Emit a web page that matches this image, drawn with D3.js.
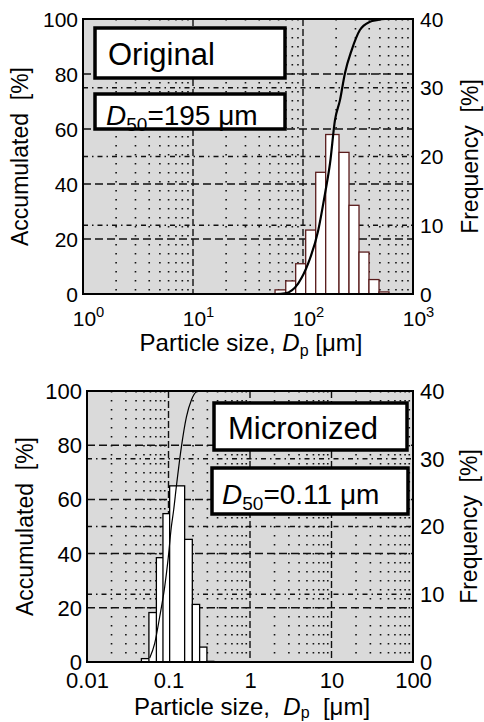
<!DOCTYPE html>
<html>
<head>
<meta charset="utf-8">
<script src="https://cdn.jsdelivr.net/npm/d3@7"></script>
<style>
  html, body { margin:0; padding:0; background:#fff; }
  svg { display:block; }
</style>
</head>
<body>
<svg id="chart" width="484" height="722"></svg>
<script>
// particle size distributions, original vs micronized

// top panel (original)
const origBinLo   = [55.7, 69.7, 85.8, 105.8, 130.5, 160.8, 212.5, 262, 323, 398, 491];
const origBinHi   = [69.7, 85.8, 105.8, 130.5, 160.8, 212.5, 262, 323, 398, 491, 605];
const origFreq    = [0.6, 1.9, 4.4, 9.3, 17.7, 23.2, 20.6, 12.9, 6.1, 2.1, 0.3];
const origCumSize = [55.7, 68.6, 90.6, 111.7, 137.8, 158.7, 176, 195.4, 216.8, 240.6, 277, 329, 406, 468, 560, 1000];
const origCumPct  = [0, 0.25, 3.9, 11.2, 23.3, 36.6, 47.5, 63.3, 70.5, 80.3, 88.7, 96, 99, 99.6, 100, 100];

// bottom panel (micronized)
const micBinLo   = [0.0465, 0.0575, 0.0710, 0.0855, 0.1033, 0.1578, 0.196, 0.241, 0.296];
const micBinHi   = [0.0676, 0.0841, 0.1033, 0.1306, 0.1578, 0.196, 0.241, 0.296, 0.36];
const micFreq    = [0.5, 7.3, 15.4, 21.9, 26.0, 18.1, 8.5, 2.2, 0.1];
const micCumSize = [0.0588, 0.0676, 0.0779, 0.0898, 0.0985, 0.1083, 0.1156, 0.1247, 0.1438, 0.1657, 0.1906, 0.2196, 0.2486];
const micCumPct  = [1.5, 6.8, 16.6, 27.7, 37.5, 49.8, 56, 64.6, 79.3, 90.4, 96.6, 99.6, 100];

// ticks
const accTicks  = [0, 20, 40, 60, 80, 100];
const freqTicks = [0, 10, 20, 30, 40];
const origXTicks = [1, 10, 100, 1000];
const origXExp   = ["0", "1", "2", "3"];
const micXTicks  = [0.01, 0.1, 1, 10, 100];
const micXLabels = ["0.01", "0.1", "1", "10", "100"];

const FONT = "'Liberation Sans', Arial, Helvetica, sans-serif";
const svg = d3.select("#chart");

function drawPanel(p) {
  const x = d3.scaleLog().domain(p.xDomain).range([p.left, p.right]);
  const yA = d3.scaleLinear().domain([0, 100]).range([p.bottom, p.top]);
  const yF = d3.scaleLinear().domain([0, 40]).range([p.bottom, p.top]);
  const g = svg.append("g");

  g.append("rect").attr("x", p.left).attr("y", p.top)
    .attr("width", p.right - p.left).attr("height", p.bottom - p.top)
    .attr("fill", "#dadada");

  // minor vertical dotted grid
  const minors = [];
  let d0 = p.xDomain[0];
  while (d0 < p.xDomain[1] * 0.999) {
    for (let k = 2; k <= 9; k++) minors.push(d0 * k);
    d0 *= 10;
  }
  g.append("g").selectAll("line").data(minors).join("line")
    .attr("x1", d => x(d)).attr("x2", d => x(d)).attr("y1", p.top).attr("y2", p.bottom)
    .attr("stroke", "#111").attr("stroke-width", 1.6).attr("stroke-dasharray", "1.6,7.4");

  // decade dashed verticals
  g.append("g").selectAll("line").data(p.xTicks.slice(1, -1)).join("line")
    .attr("x1", d => x(d)).attr("x2", d => x(d)).attr("y1", p.top).attr("y2", p.bottom)
    .attr("stroke", "#111").attr("stroke-width", 1.4).attr("stroke-dasharray", "7,3");

  // right axis dash-dot horizontals
  g.append("g").selectAll("line").data(freqTicks.slice(1, -1)).join("line")
    .attr("x1", p.left).attr("x2", p.right).attr("y1", d => yF(d)).attr("y2", d => yF(d))
    .attr("stroke", "#111").attr("stroke-width", 1.3).attr("stroke-dasharray", "5,4,1.5,4");

  // left axis dashed horizontals
  g.append("g").selectAll("line").data(accTicks.slice(1, -1)).join("line")
    .attr("x1", p.left).attr("x2", p.right).attr("y1", d => yA(d)).attr("y2", d => yA(d))
    .attr("stroke", "#111").attr("stroke-width", 1.5).attr("stroke-dasharray", "8,4");

  // histogram
  const bins = p.freq.map((f, i) => ({ lo: p.lo[i], hi: p.hi[i], f }));
  g.append("g").selectAll("rect").data(bins).join("rect")
    .attr("x", d => x(d.lo)).attr("width", d => x(d.hi) - x(d.lo))
    .attr("y", d => yF(d.f)).attr("height", d => yF(0) - yF(d.f))
    .attr("fill", "#fff").attr("stroke", p.barStroke).attr("stroke-width", 1.3);

  // cumulative curve
  const line = d3.line().x(d => x(d[0])).y(d => yA(d[1])).curve(d3.curveMonotoneX);
  g.append("path").datum(p.cumSize.map((s, i) => [s, p.cumPct[i]]))
    .attr("d", line).attr("fill", "none").attr("stroke", "#000").attr("stroke-width", p.curveW);

  // frame
  g.append("rect").attr("x", p.left).attr("y", p.top)
    .attr("width", p.right - p.left).attr("height", p.bottom - p.top)
    .attr("fill", "none").attr("stroke", "#000").attr("stroke-width", 2);

  // axes
  const styleTicks = (sel, fs) => sel.call(a => a.select(".domain").remove())
    .call(a => a.selectAll("line").remove())
    .call(a => a.selectAll("text").attr("fill", "#000")
      .style("font-family", FONT).style("font-size", fs + "px"));

  g.append("g").attr("transform", `translate(${p.left - 5},0)`)
    .call(d3.axisLeft(yA).tickValues(accTicks).tickSize(0).tickPadding(0).tickFormat(d3.format("d")))
    .call(sel => styleTicks(sel, p.yTickFs))
    .call(a => a.selectAll("text").attr("dy", "0.34em"));

  g.append("g").attr("transform", `translate(${p.right + 7},0)`)
    .call(d3.axisRight(yF).tickValues(freqTicks).tickSize(0).tickPadding(0).tickFormat(d3.format("d")))
    .call(sel => styleTicks(sel, p.yTickFs))
    .call(a => a.selectAll("text").attr("dy", "0.34em"));

  const xa = g.append("g").attr("transform", `translate(0,${p.bottom})`)
    .call(d3.axisBottom(x).tickValues(p.xTicks).tickSize(0).tickPadding(0).tickFormat(() => ""))
    .call(sel => styleTicks(sel, p.xTickFs));
  xa.selectAll("text").each(function (d, i) {
    const t = d3.select(this).attr("y", p.xLabelDy).attr("dy", null);
    if (p.xExp) {
      t.attr("dx", 5);
      t.append("tspan").text("10");
      t.append("tspan").attr("dy", -9).style("font-size", (p.xTickFs * 0.7) + "px").text(p.xExp[i]);
    } else {
      t.text(p.xLabels[i]);
    }
  });

  // axis titles
  const title = g.append("text").attr("x", (p.left + p.right) / 2 + p.titleDx).attr("y", p.titleY)
    .attr("text-anchor", "middle").attr("fill", "#000")
    .style("font-family", FONT).style("font-size", "24px").style("white-space", "pre");
  title.append("tspan").text(p.titleGap ? "Particle size,  " : "Particle size, ");
  title.append("tspan").style("font-style", "italic").text("D");
  title.append("tspan").attr("dy", p.subDy).style("font-size", "16px").text("p");
  title.append("tspan").attr("dy", -p.subDy).text(p.titleGap ? "  [\u03bcm]" : " [\u03bcm]");

  const cy = (p.top + p.bottom) / 2;
  g.append("text").attr("transform", `translate(${p.accX},${cy}) rotate(-90)`)
    .attr("text-anchor", "middle").attr("fill", "#000")
    .style("font-family", FONT).style("font-size", "23px").style("white-space", "pre")
    .text("Accumulated  [%]");
  g.append("text").attr("transform", `translate(${p.freqX},${cy}) rotate(-90)`)
    .attr("text-anchor", "middle").attr("fill", "#000")
    .style("font-family", FONT).style("font-size", "23px").style("white-space", "pre")
    .text("Frequency  [%]");

  // label boxes
  p.boxes.forEach(b => {
    g.append("rect").attr("x", b.x).attr("y", b.y).attr("width", b.w).attr("height", b.h)
      .attr("fill", "#fff").attr("stroke", "#000").attr("stroke-width", 3.5);
    const t = g.append("text").attr("x", b.tx).attr("y", b.ty).attr("fill", "#000")
      .style("font-family", FONT).style("font-size", b.fs + "px");
    if (b.d50) {
      t.append("tspan").style("font-style", "italic").text("D");
      t.append("tspan").attr("dy", 6).style("font-size", "19px").text("50");
      t.append("tspan").attr("dy", -6).text("=" + b.d50 + " \u03bcm");
    } else {
      t.text(b.label);
    }
  });
}

drawPanel({
  left: 83, right: 413, top: 19, bottom: 294,
  xDomain: [1, 1000], xTicks: origXTicks, xExp: origXExp, xLabelDy: 32,
  lo: origBinLo, hi: origBinHi, freq: origFreq,
  cumSize: origCumSize, cumPct: origCumPct,
  barStroke: "#5a1c1c", curveW: 2.2, yTickFs: 21, xTickFs: 21,
  titleY: 351, titleDx: 3, titleGap: false, subDy: 5, accX: 28, freqX: 478,
  boxes: [
    { x: 95, y: 28, w: 190, h: 50, tx: 108, ty: 65, fs: 31, label: "Original" },
    { x: 95, y: 94, w: 190, h: 35, tx: 106, ty: 125, fs: 28, d50: "195" }
  ]
});

drawPanel({
  left: 87, right: 413, top: 391, bottom: 662,
  xDomain: [0.01, 100], xTicks: micXTicks, xLabels: micXLabels, xLabelDy: 26,
  lo: micBinLo, hi: micBinHi, freq: micFreq,
  cumSize: micCumSize, cumPct: micCumPct,
  barStroke: "#000", curveW: 1.2, yTickFs: 22, xTickFs: 22,
  titleY: 715, titleDx: 2, titleGap: true, subDy: 3, accX: 33, freqX: 477,
  boxes: [
    { x: 214, y: 403, w: 193, h: 47, tx: 228, ty: 439, fs: 31, label: "Micronized" },
    { x: 212, y: 468, w: 196, h: 46, tx: 222, ty: 504, fs: 28, d50: "0.11" }
  ]
});
</script>
</body>
</html>
